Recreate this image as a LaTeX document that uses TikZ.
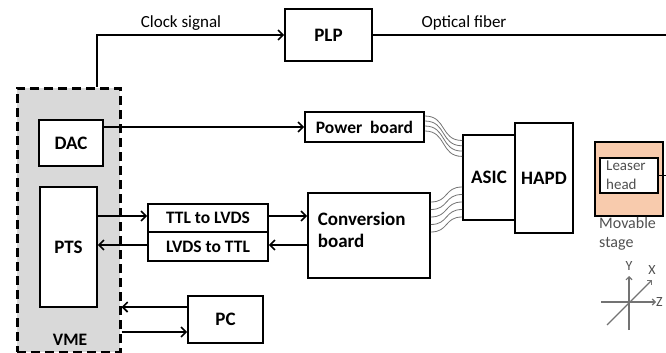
\documentclass[tikz,border=0pt]{standalone}
\usepackage{fontspec}
\setmainfont{Carlito}
\usetikzlibrary{arrows.meta,calc}
\definecolor{vmegray}{RGB}{217,217,217}
\definecolor{peach}{RGB}{248,203,173}
\definecolor{txtgray}{RGB}{80,80,80}
\tikzset{
  blk/.style={draw=black,line width=1.7pt,fill=white,inner sep=0pt,font=\bfseries\fontsize{19}{21}\selectfont},
  blksm/.style={blk,font=\bfseries\fontsize{17.5}{19}\selectfont},
  arr/.style={line width=1.6pt,-{Straight Barb[length=5pt,width=10pt,line width=1.6pt]}},
  wire/.style={black!55,line width=0.8pt},
  axis/.style={black!55,line width=1.1pt,-{Straight Barb[length=3pt,width=6pt]}},
  lbl/.style={inner sep=0pt,font=\fontsize{17}{19}\selectfont},
  gtxt/.style={inner sep=0pt,text=txtgray,align=left,font=\fontsize{16}{19}\selectfont}
}
\begin{document}
\begin{tikzpicture}[x=1pt,y=-1pt]
\useasboundingbox (0,0) rectangle (666,353);
% VME crate
\node[draw=black,fill=vmegray,line width=3pt,dash pattern=on 9pt off 5pt,minimum width=103pt,minimum height=264pt,inner sep=0pt] (vme) at (68.5,220) {};
\node[blksm,draw=none,fill=none] (vmelbl) at (70,340) {VME};
% blocks
\node[blk,minimum width=64pt,minimum height=46pt] (dac) at (71,143) {DAC};
\node[blk,minimum width=57pt,minimum height=120pt] (pts) at (68.5,247) {PTS};
\node[blk,minimum width=87pt,minimum height=52pt] (plp) at (328.5,35) {PLP};
\node[blksm,minimum width=119pt,minimum height=30pt] (pb) at (364.5,127) {Power~ board};
\node[blk,minimum width=58pt,minimum height=110pt] (hapd) at (544,178) {HAPD};
\node[blk,minimum width=52pt,minimum height=85pt] (asic) at (489,177.5) {ASIC};
\node[blk,minimum width=122pt,minimum height=85pt] (conv) at (369,235.5) {};
\node[blk,draw=none,fill=none,anchor=west,align=left,font=\bfseries\fontsize{19}{22}\selectfont] (convlbl) at (317,230) {Conversion\\board};
\node[blksm,minimum width=120pt,minimum height=28pt] (ttl) at (208,218) {TTL to LVDS};
\node[blksm,minimum width=120pt,minimum height=29pt] (lvds) at (208,246.5) {LVDS to TTL};
\node[blk,minimum width=75pt,minimum height=47pt] (pc) at (225.5,319.5) {PC};
% stage
\node[draw=black,fill=peach,line width=1.7pt,minimum width=68pt,minimum height=74pt,inner sep=0pt] (stage) at (629,179) {};
\node[draw=black,fill=white,line width=1.7pt,minimum width=58pt,minimum height=35pt,inner sep=0pt] (head) at (629,175.5) {};
\node[gtxt,anchor=west,font=\fontsize{15}{19}\selectfont] (headlbl) at (606,175.5) {Leaser\\head};
\node[gtxt,anchor=north west] (stagelbl) at (599,217) {Movable\\stage};
\coordinate (fibend) at (666,33);
\coordinate (headend) at (666,175.5);
% connections
\draw[line width=1.6pt] (head.east) -- (headend);
\draw[arr] ([xshift=28.5pt]vme.north) |- (plp.west);
\draw[line width=1.6pt] (plp.east) -- (plp.east -| fibend);
\node[lbl,anchor=base] (clk) at (181,28) {Clock signal};
\node[lbl,anchor=base] (fib) at (464,28) {Optical fiber};
\draw[arr] (pb.west -| dac.east) -- (pb.west);
\draw[arr] ([yshift=2pt]ttl.west -| pts.east) -- ([yshift=2pt]ttl.west);
\draw[arr] ([yshift=2pt]ttl.east) -- ([yshift=2pt]ttl.east -| conv.west);
\draw[arr] ([yshift=1.5pt]lvds.east -| conv.west) -- ([yshift=1.5pt]lvds.east);
\draw[arr] ([yshift=1.5pt]lvds.west) -- ([yshift=1.5pt]lvds.west -| pts.east);
\draw[arr] ([yshift=12.5pt]pc.west) -- ([yshift=12.5pt]pc.west -| vme.east);
\draw[arr] ([yshift=-12.5pt]pc.west -| vme.east) -- ([yshift=-12.5pt]pc.west);
% wires power board -> ASIC
\foreach \i in {0,1,2,3}{
  \draw[wire] ([yshift=11pt-5*\i pt]pb.east) .. controls +(22pt,0) and +(-22pt,0) .. ([yshift=37pt-5.3*\i pt]asic.west);
}
% wires conversion board -> ASIC
\foreach \i in {0,1,2,3,4}{
  \draw[wire] ([yshift=33.5pt-7.5*\i pt]conv.east) .. controls +(18pt,0) and +(-18pt,0) .. ([yshift=-9.5pt-7.5*\i pt]asic.west);
}
% axes
\coordinate (orig) at (629,302);
\coordinate (ybot) at (629,330);
\coordinate (ytop) at (629,276);
\coordinate (zl) at (601,302);
\coordinate (zr) at (656,302);
\coordinate (xl) at (607,325);
\coordinate (xr) at (652,280);
\draw[axis] (ybot) -- (ytop);
\draw[axis] (zl) -- (zr);
\draw[axis] (xl) -- (xr);
\node[gtxt,font=\fontsize{14}{16}\selectfont] (ylbl) at (629,266) {Y};
\node[gtxt,font=\fontsize{14}{16}\selectfont] (xlbl) at (652,270) {X};
\node[gtxt,font=\fontsize{14}{16}\selectfont,anchor=west] (zlbl) at (656,302) {Z};
\end{tikzpicture}
\end{document}
